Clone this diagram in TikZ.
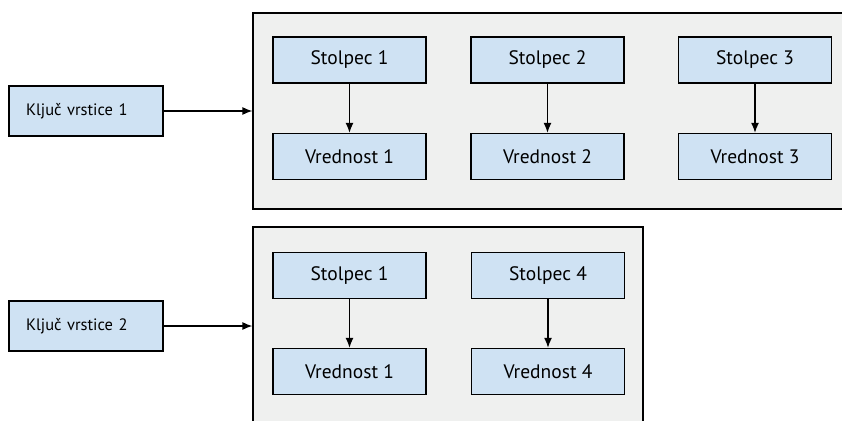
\documentclass[tikz,border=0pt]{standalone}
\usepackage{fontspec}
\setmainfont{PT Sans}
\usetikzlibrary{arrows.meta}

\definecolor{celicamodra}{HTML}{CFE2F3}
\definecolor{ozadje}{HTML}{EFF0EF}

\tikzset{
	celica/.style={draw, line width=1.4pt, fill=celicamodra, minimum width=153pt,
		minimum height=46pt, inner sep=0pt, font=\fontsize{19.5}{24}\selectfont},
	kljuc/.style={draw, line width=1.4pt, fill=celicamodra, minimum height=50pt,
		text width=120pt, inner xsep=17pt, align=left, font=\fontsize{16.5}{20}\selectfont},
	vrsta/.style={draw, line width=1.2pt, fill=ozadje, inner sep=0pt},
	puscica/.style={-{Latex[length=10pt,width=8pt]}, line width=1.3pt}
}

\begin{document}
\begin{tikzpicture}[x=1pt, y=-1pt]
\useasboundingbox (0,0) rectangle (842,420);

% Vrstica 1 (plošča sega čez desni rob)
\node[vrsta, minimum width=600pt, minimum height=196pt] (vrsta1) at (553,111) {};
\node[kljuc] (kljuc1) at (86,111) {Ključ vrstice 1};
\draw[puscica] (kljuc1.east) -- (kljuc1.east -| vrsta1.west);

	\foreach \x/\i in {349.5/1, 547.5/2, 755/3} {
		\node[celica] (s1\i) at (\x,60) {Stolpec \i};
		\node[celica] (v1\i) at (\x,156.5) {Vrednost \i};
		\draw[puscica] (s1\i) -- (v1\i);
	}

% Vrstica 2 (plošča sega čez spodnji rob)
\node[vrsta, minimum width=390pt, minimum height=200pt] (vrsta2) at (448,327) {};
\node[kljuc] (kljuc2) at (86,326) {Ključ vrstice 2};
\draw[puscica] (kljuc2.east) -- (kljuc2.east -| vrsta2.west);

	\foreach \x/\i in {349.5/1, 548/4} {
		\node[celica] (s2\i) at (\x,275.5) {Stolpec \i};
		\node[celica] (v2\i) at (\x,371.5) {Vrednost \i};
		\draw[puscica] (s2\i) -- (v2\i);
	}
\end{tikzpicture}
\end{document}
